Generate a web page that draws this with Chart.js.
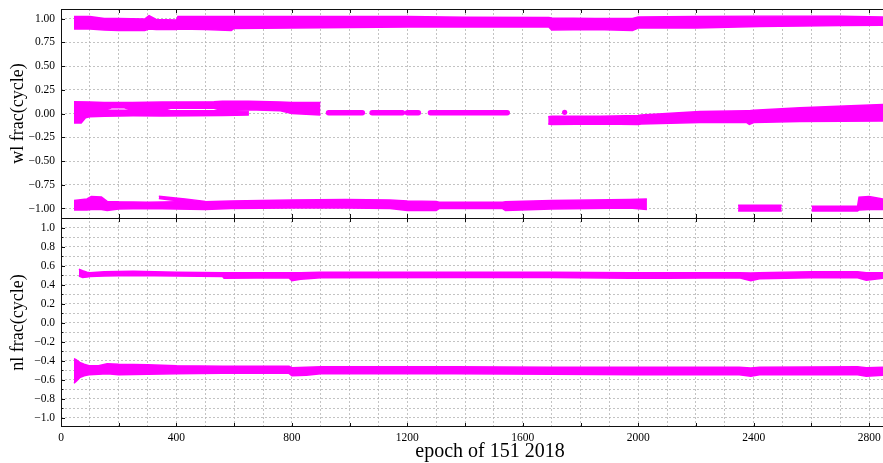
<!DOCTYPE html>
<html>
<head>
<meta charset="utf-8">
<script src="https://cdn.jsdelivr.net/npm/chart.js@4.4.1/dist/chart.umd.min.js"></script>
<style>
  html, body { margin: 0; padding: 0; background: #fff; overflow: hidden; }
  #wrap { width: 883px; height: 463px; }
</style>
</head>
<body>
<div id="wrap"><canvas id="c" width="883" height="463"></canvas></div>
<script>
// ---- wl fractional part: band near +1 ----
const wlPlusEpoch = [45, 100, 150, 200, 290, 305, 330, 400, 405, 500, 590, 600, 800, 1000, 1200, 1400, 1690, 1700, 1850, 1980, 2000, 2200, 2420, 2700, 2848];
const wlPlusHi    = [1.02, 1.02, 1.0, 1.0, 0.995, 1.03, 0.99, 0.985, 1.02, 1.02, 1.02, 1.02, 1.02, 1.02, 1.02, 1.012, 1.01, 1.005, 1.0, 1.0, 1.015, 1.02, 1.025, 1.025, 1.015];
const wlPlusLo    = [0.89, 0.89, 0.88, 0.875, 0.875, 0.89, 0.885, 0.885, 0.89, 0.885, 0.875, 0.895, 0.90, 0.905, 0.91, 0.91, 0.91, 0.88, 0.885, 0.875, 0.90, 0.90, 0.915, 0.925, 0.93];

// ---- wl near 0: upper strand (epochs 45-899) ----
const wlZeroUpEpoch = [45, 100, 149, 175, 220, 247, 351, 380, 530, 559, 650, 760, 800, 899];
const wlZeroUpHi    = [0.125, 0.12, 0.115, 0.115, 0.115, 0.115, 0.12, 0.12, 0.125, 0.13, 0.13, 0.12, 0.115, 0.115];
const wlZeroUpLo    = [0.03, 0.03, 0.03, 0.06, 0.06, 0.03, 0.03, 0.055, 0.055, 0.03, 0.04, 0.03, 0.0, -0.015];

// ---- wl near 0: lower strand (epochs 45-651) ----
const wlZeroLowEpoch = [45, 70, 85, 100, 150, 250, 350, 560, 651];
const wlZeroLowHi    = [0.035, 0.03, 0.035, 0.035, 0.035, 0.035, 0.03, 0.03, 0.025];
const wlZeroLowLo    = [-0.1, -0.1, -0.045, -0.035, -0.03, -0.025, -0.025, -0.02, -0.015];

// ---- wl near 0: short runs between 927 and 1546 ----
const wlRunStart = [927, 1078, 1200, 1280];
const wlRunEnd   = [1044, 1183, 1238, 1546];
const wlRunLevel = [0.008, 0.008, 0.008, 0.008];

// ---- wl near 0: late drift (epochs 1688-2848) ----
const wlDriftEpoch = [1688, 1700, 1870, 2000, 2010, 2214, 2376, 2385, 2400, 2560, 2848];
const wlDriftHi    = [-0.035, -0.03, -0.03, -0.02, -0.015, 0.02, 0.03, 0.03, 0.035, 0.06, 0.095];
const wlDriftLo    = [-0.11, -0.115, -0.11, -0.115, -0.11, -0.095, -0.095, -0.115, -0.095, -0.085, -0.08];

// single isolated epoch
const wlLoneEpoch = [1745];
const wlLoneValue = [0.012];

// ---- wl near -1 ----
const wlMinusEpoch = [45, 90, 105, 140, 160, 200, 300, 400, 500, 590, 800, 985, 1140, 1200, 1300, 1310, 1530, 1540, 1700, 1970, 2030];
const wlMinusHi    = [-0.915, -0.90, -0.875, -0.88, -0.925, -0.93, -0.935, -0.93, -0.93, -0.92, -0.91, -0.905, -0.91, -0.92, -0.925, -0.935, -0.935, -0.93, -0.915, -0.905, -0.90];
const wlMinusLo    = [-1.015, -1.015, -1.01, -1.01, -1.02, -1.005, -1.0, -1.005, -1.01, -1.0, -0.995, -0.995, -1.0, -1.02, -1.02, -1.0, -1.0, -1.02, -1.005, -0.995, -1.01];

const wlMinusArcEpoch = [339, 380, 430, 500];
const wlMinusArcHi    = [-0.87, -0.885, -0.90, -0.925];
const wlMinusArcLo    = [-0.895, -0.91, -0.925, -0.94];

const wlMinusMidEpoch = [2346, 2497];
const wlMinusMidHi    = [-0.965, -0.965];
const wlMinusMidLo    = [-1.025, -1.025];

const wlMinusEndEpoch = [2601, 2700, 2760, 2765, 2800, 2848];
const wlMinusEndHi    = [-0.975, -0.975, -0.975, -0.88, -0.875, -0.9];
const wlMinusEndLo    = [-1.025, -1.025, -1.025, -1.015, -1.01, -1.01];

// ---- nl fractional part: band near +0.5 ----
const nlPlusEpoch = [62, 75, 90, 100, 150, 250, 400, 560, 565, 790, 800, 830, 900, 1366, 1700, 1970, 2100, 2350, 2390, 2420, 2600, 2760, 2790, 2848];
const nlPlusHi    = [0.56, 0.545, 0.53, 0.525, 0.535, 0.54, 0.53, 0.525, 0.525, 0.525, 0.525, 0.525, 0.53, 0.53, 0.53, 0.525, 0.525, 0.525, 0.52, 0.525, 0.535, 0.535, 0.525, 0.525];
const nlPlusLo    = [0.49, 0.475, 0.48, 0.485, 0.49, 0.495, 0.49, 0.485, 0.465, 0.47, 0.44, 0.455, 0.47, 0.475, 0.475, 0.465, 0.465, 0.47, 0.44, 0.46, 0.47, 0.47, 0.445, 0.465];

// ---- nl band near -0.5 ----
const nlMinusEpoch = [45, 52, 65, 80, 97, 130, 160, 200, 300, 400, 560, 790, 800, 850, 900, 1366, 1700, 2000, 2350, 2390, 2420, 2760, 2790, 2848];
const nlMinusHi    = [-0.38, -0.39, -0.42, -0.44, -0.455, -0.455, -0.435, -0.44, -0.445, -0.455, -0.46, -0.46, -0.475, -0.47, -0.465, -0.465, -0.47, -0.47, -0.47, -0.48, -0.47, -0.465, -0.475, -0.47];
const nlMinusLo    = [-0.64, -0.62, -0.58, -0.56, -0.55, -0.545, -0.54, -0.55, -0.545, -0.54, -0.535, -0.535, -0.56, -0.555, -0.54, -0.54, -0.545, -0.55, -0.55, -0.565, -0.55, -0.55, -0.565, -0.555];

// ---- axes ----
const epochGrid   = [0, 100, 200, 300, 400, 500, 600, 700, 800, 900, 1000, 1100, 1200, 1300, 1400, 1500, 1600, 1700, 1800, 1900, 2000, 2100, 2200, 2300, 2400, 2500, 2600, 2700, 2800];
const epochLabels = [0, 400, 800, 1200, 1600, 2000, 2400, 2800];
const epochMarks  = [0, 200, 400, 600, 800, 1000, 1200, 1400, 1600, 1800, 2000, 2200, 2400, 2600, 2800];
const wlTicks  = [-1.00, -0.75, -0.50, -0.25, 0.00, 0.25, 0.50, 0.75, 1.00];
const nlTicks  = [-1.0, -0.9, -0.8, -0.7, -0.6, -0.5, -0.4, -0.3, -0.2, -0.1, 0.0, 0.1, 0.2, 0.3, 0.4, 0.5, 0.6, 0.7, 0.8, 0.9, 1.0];
const nlLabels = [-1.0, -0.8, -0.6, -0.4, -0.2, 0.0, 0.2, 0.4, 0.6, 0.8, 1.0];
const epochTitle = 'epoch of 151 2018';

const MAGENTA = '#ff00ff';
const SERIF = "'Liberation Serif', 'Times New Roman', serif";
const datasets = [];

function pts(xs, ys) { return xs.map((x, i) => ({ x: x, y: ys[i] })); }

// a filled band between a lower and an upper edge
function band(xs, hi, lo, axis) {
  datasets.push({ data: pts(xs, lo), yAxisID: axis, borderColor: MAGENTA, borderWidth: 1.5,
                  pointRadius: 0, fill: false, tension: 0 });
  datasets.push({ data: pts(xs, hi), yAxisID: axis, borderColor: MAGENTA, borderWidth: 1.5,
                  pointRadius: 0, fill: '-1', backgroundColor: MAGENTA, tension: 0 });
}

band(wlPlusEpoch, wlPlusHi, wlPlusLo, 'yWl');
band(wlZeroUpEpoch, wlZeroUpHi, wlZeroUpLo, 'yWl');
band(wlZeroLowEpoch, wlZeroLowHi, wlZeroLowLo, 'yWl');
band(wlDriftEpoch, wlDriftHi, wlDriftLo, 'yWl');
band(wlMinusEpoch, wlMinusHi, wlMinusLo, 'yWl');
band(wlMinusArcEpoch, wlMinusArcHi, wlMinusArcLo, 'yWl');
band(wlMinusMidEpoch, wlMinusMidHi, wlMinusMidLo, 'yWl');
band(wlMinusEndEpoch, wlMinusEndHi, wlMinusEndLo, 'yWl');
band(nlPlusEpoch, nlPlusHi, nlPlusLo, 'yNl');
band(nlMinusEpoch, nlMinusHi, nlMinusLo, 'yNl');

wlRunStart.forEach((s, i) => {
  datasets.push({ data: [{ x: s, y: wlRunLevel[i] }, { x: wlRunEnd[i], y: wlRunLevel[i] }],
                  yAxisID: 'yWl', borderColor: MAGENTA, borderWidth: 5.5, borderCapStyle: 'round',
                  pointRadius: 0, fill: false });
});
datasets.push({ data: pts(wlLoneEpoch, wlLoneValue), yAxisID: 'yWl', showLine: false,
                pointRadius: 2.6, pointBackgroundColor: MAGENTA, pointBorderWidth: 0, fill: false });

const minus = s => s.replace('-', '\u2212');
const gridStyle = { color: '#b4b4b4', lineWidth: 0.8, drawTicks: false };
const dashed = { display: false, dash: [2, 2] };

// inward tick marks, the frame around both panels and the epoch title
// (the axes box is wider than the canvas, so the title sits right of the canvas centre)
const framePlugin = {
  id: 'frame',
  afterDraw(chart) {
    const ctx = chart.ctx;
    const x = chart.scales.x, yW = chart.scales.yWl, yN = chart.scales.yNl;
    const L = chart.chartArea.left, R = chart.chartArea.right;
    const top = yW.top, mid = yW.bottom, bot = yN.bottom;
    ctx.save();
    ctx.strokeStyle = '#111';
    ctx.lineWidth = 1;
    ctx.beginPath();
    ctx.moveTo(L + 0.5, top); ctx.lineTo(L + 0.5, bot);
    ctx.moveTo(L, top + 0.5); ctx.lineTo(R, top + 0.5);
    ctx.moveTo(L, Math.round(mid) + 0.5); ctx.lineTo(R, Math.round(mid) + 0.5);
    ctx.moveTo(L, Math.round(bot) - 0.5); ctx.lineTo(R, Math.round(bot) - 0.5);
    epochMarks.forEach(v => {
      const px = Math.round(x.getPixelForValue(v)) + 0.5;
      ctx.moveTo(px, top); ctx.lineTo(px, top + 4);
      ctx.moveTo(px, mid - 4); ctx.lineTo(px, mid + 4);
      ctx.moveTo(px, bot); ctx.lineTo(px, bot - 4);
    });
    wlTicks.forEach(v => {
      const py = Math.round(yW.getPixelForValue(v)) + 0.5;
      ctx.moveTo(L, py); ctx.lineTo(L + 4, py);
    });
    nlTicks.forEach(v => {
      const py = Math.round(yN.getPixelForValue(v)) + 0.5;
      const major = nlLabels.some(l => Math.abs(l - v) < 1e-9);
      ctx.moveTo(L, py); ctx.lineTo(L + (major ? 4 : 2.5), py);
    });
    ctx.stroke();

    ctx.fillStyle = '#000';
    ctx.font = '20px ' + SERIF;
    ctx.textAlign = 'center';
    ctx.textBaseline = 'middle';
    ctx.fillText(epochTitle, L + 429, x.bottom - 11);
    ctx.restore();
  }
};

// keep the plot box flush with the layout padding (no extra room for edge labels)
const noEdgeRoom = s => {
  s.paddingLeft = 0; s.paddingRight = 0; s.paddingTop = 0; s.paddingBottom = 0;
};

new Chart(document.getElementById('c'), {
  type: 'line',
  data: { datasets: datasets },
  plugins: [framePlugin],
  options: {
    responsive: false,
    animation: false,
    devicePixelRatio: 1,
    events: [],
    layout: { autoPadding: false, padding: { top: 9, right: 0, left: 0, bottom: 0 } },
    plugins: { legend: { display: false }, tooltip: { enabled: false } },
    scales: {
      x: {
        type: 'linear', min: 0, max: 2848, position: 'bottom',
        grid: gridStyle, border: dashed,
        afterBuildTicks: s => { s.ticks = epochGrid.map(v => ({ value: v })); },
        afterFit: s => { s.height = 36; noEdgeRoom(s); },
        ticks: {
          autoSkip: false, maxRotation: 0, padding: 4, color: '#000',
          font: { family: SERIF, size: 11.5 },
          callback: v => epochLabels.includes(v) ? String(v) : ''
        }
      },
      yNl: {
        type: 'linear', position: 'left', stack: 'panels', stackWeight: 1,
        min: -1.1, max: 1.1,
        grid: gridStyle, border: dashed,
        afterBuildTicks: s => { s.ticks = nlTicks.map(v => ({ value: v })); },
        afterFit: s => { s.width = 61; noEdgeRoom(s); },
        ticks: {
          autoSkip: false, padding: 6, color: '#000', font: { family: SERIF, size: 11.5 },
          callback: v => nlLabels.some(l => Math.abs(l - v) < 1e-9) ? minus(v.toFixed(1)) : ''
        },
        title: { display: true, text: 'nl frac(cycle)', color: '#000',
                 font: { family: SERIF, size: 18 }, padding: { top: 7, bottom: 0 } }
      },
      yWl: {
        type: 'linear', position: 'left', stack: 'panels', stackWeight: 1,
        min: -1.1, max: 1.1,
        grid: gridStyle, border: dashed,
        afterBuildTicks: s => { s.ticks = wlTicks.map(v => ({ value: v })); },
        afterFit: s => { s.width = 61; noEdgeRoom(s); },
        ticks: {
          autoSkip: false, padding: 6, color: '#000', font: { family: SERIF, size: 11.5 },
          callback: v => minus(v.toFixed(2))
        },
        title: { display: true, text: 'wl frac(cycle)', color: '#000',
                 font: { family: SERIF, size: 18 }, padding: { top: 7, bottom: 0 } }
      }
    }
  }
});
</script>
</body>
</html>
